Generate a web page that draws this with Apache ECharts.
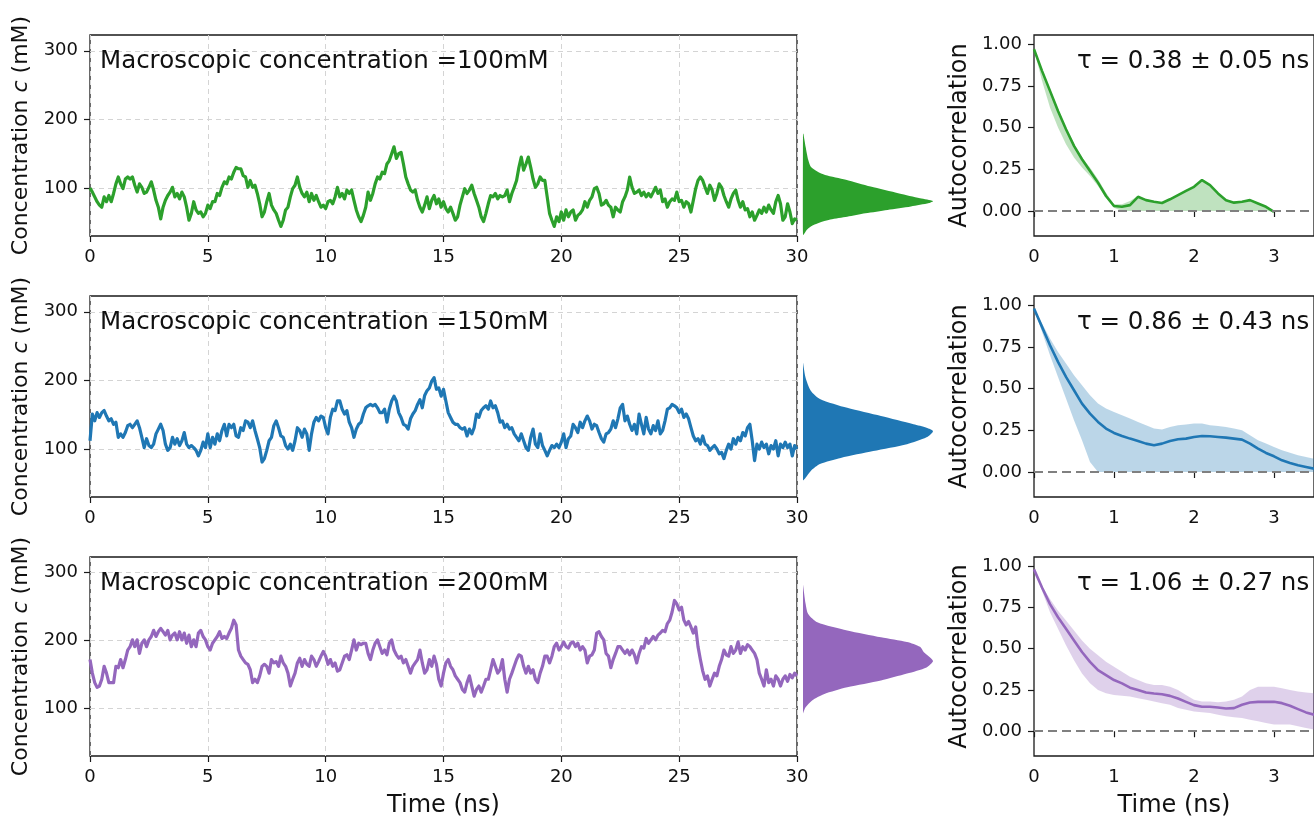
<!DOCTYPE html>
<html>
<head>
<meta charset="utf-8">
<script src="https://cdn.jsdelivr.net/npm/echarts@6/dist/echarts.min.js"></script>
<style>
  html, body { margin: 0; padding: 0; background: #ffffff; }
  #chart { width: 1314px; height: 819px; }
</style>
</head>
<body>
<div id="chart"></div>
<script>
// ---------- data ----------
// concentration trajectories (mM), sampled every 0.1 ns from 0 to 30 ns
const timeStepNs = 0.1;

const conc100 = [
  100, 94, 87, 80, 75, 72, 87, 80, 89, 80,
  92, 106, 116, 106, 99, 113, 116, 113, 116, 104,
  94, 106, 101, 92, 94, 101, 109, 97, 82, 72,
  55, 72, 82, 89, 94, 101, 87, 92, 84, 94,
  87, 72, 53, 63, 80, 68, 63, 65, 58, 63,
  75, 70, 80, 80, 92, 89, 101, 109, 106, 116,
  113, 123, 130, 128, 128, 118, 116, 101, 111, 101,
  104, 92, 77, 58, 65, 80, 92, 75, 68, 63,
  53, 44, 53, 68, 72, 87, 99, 104, 116, 101,
  92, 87, 94, 80, 92, 82, 89, 80, 72, 75,
  70, 80, 82, 77, 87, 101, 87, 92, 84, 97,
  92, 97, 82, 68, 58, 51, 60, 72, 94, 82,
  92, 106, 116, 113, 123, 121, 135, 140, 150, 160,
  143, 150, 152, 135, 116, 106, 97, 94, 97, 82,
  72, 65, 75, 87, 70, 82, 89, 77, 84, 72,
  80, 70, 65, 72, 63, 53, 58, 75, 87, 99,
  92, 97, 104, 92, 82, 72, 58, 51, 63, 77,
  89, 87, 92, 84, 89, 87, 89, 97, 80, 92,
  101, 111, 130, 145, 126, 135, 145, 130, 113, 101,
  106, 116, 111, 111, 87, 63, 53, 44, 58, 51,
  65, 53, 68, 58, 65, 68, 53, 60, 63, 68,
  80, 72, 82, 87, 99, 101, 92, 75, 77, 82,
  75, 72, 58, 72, 68, 65, 80, 87, 97, 116,
  101, 92, 94, 97, 89, 94, 87, 92, 87, 94,
  101, 92, 97, 80, 84, 72, 80, 84, 82, 94,
  80, 82, 72, 80, 77, 65, 82, 99, 111, 116,
  111, 101, 92, 104, 97, 82, 92, 106, 101, 89,
  80, 72, 84, 92, 97, 82, 72, 80, 68, 70,
  58, 65, 53, 60, 68, 63, 72, 65, 75, 68,
  63, 80, 89, 77, 53, 58, 77, 65, 48, 55,
  53
];

const conc150 = [
  112, 151, 141, 153, 146, 153, 156, 148, 141, 144,
  136, 139, 117, 122, 117, 124, 134, 136, 131, 136,
  141, 131, 117, 102, 115, 105, 102, 107, 122, 129,
  136, 127, 107, 98, 102, 117, 107, 115, 105, 112,
  124, 107, 102, 105, 102, 98, 90, 98, 110, 102,
  122, 102, 117, 107, 122, 112, 127, 136, 119, 136,
  131, 136, 119, 117, 131, 127, 141, 139, 131, 141,
  127, 115, 102, 81, 86, 98, 112, 117, 134, 141,
  131, 119, 117, 105, 100, 107, 98, 112, 131, 127,
  117, 129, 122, 98, 122, 139, 146, 141, 148, 146,
  131, 122, 146, 158, 156, 170, 170, 158, 151, 156,
  139, 131, 117, 129, 136, 139, 151, 160, 163, 165,
  163, 165, 160, 153, 153, 158, 139, 158, 170, 177,
  170, 153, 146, 136, 134, 129, 144, 151, 156, 165,
  172, 160, 178, 185, 189, 199, 204, 187, 189, 177,
  187, 170, 153, 146, 139, 136, 136, 131, 129, 131,
  119, 129, 122, 131, 151, 146, 156, 160, 163, 158,
  170, 160, 163, 153, 139, 141, 131, 136, 129, 131,
  122, 117, 112, 122, 112, 102, 98, 117, 129, 107,
  102, 122, 105, 98, 90, 98, 105, 102, 107, 102,
  110, 122, 102, 115, 119, 136, 131, 124, 139, 131,
  141, 148, 141, 129, 136, 134, 124, 115, 110, 122,
  124, 129, 141, 131, 144, 160, 165, 141, 148, 136,
  127, 136, 122, 151, 136, 122, 146, 129, 122, 134,
  127, 141, 122, 127, 141, 158, 160, 165, 163, 160,
  153, 158, 146, 151, 144, 131, 119, 112, 115, 107,
  119, 107, 105, 98, 102, 105, 100, 93, 95, 86,
  98, 107, 100, 115, 107, 117, 112, 124, 119, 131,
  136, 112, 83, 107, 100, 110, 102, 107, 93, 105,
  100, 112, 90, 107, 102, 110, 102, 107, 90, 105,
  100
];

const conc200 = [
  172, 152, 138, 131, 133, 143, 162, 152, 138, 138,
  138, 162, 160, 172, 160, 172, 186, 191, 201, 191,
  201, 181, 196, 201, 191, 201, 206, 215, 206, 213,
  218, 213, 208, 215, 201, 208, 211, 201, 213, 201,
  211, 196, 208, 191, 201, 191, 211, 215, 206, 201,
  191, 186, 196, 201, 206, 213, 203, 206, 203, 211,
  218, 230, 223, 186, 177, 172, 167, 165, 157, 138,
  143, 138, 148, 162, 165, 162, 152, 172, 167, 169,
  162, 177, 167, 162, 152, 133, 143, 152, 167, 174,
  162, 172, 165, 162, 177, 172, 162, 169, 177, 184,
  177, 165, 172, 162, 167, 155, 157, 167, 177, 179,
  172, 186, 201, 186, 196, 194, 196, 196, 181, 172,
  186, 196, 201, 191, 181, 186, 179, 196, 201, 186,
  179, 174, 177, 167, 172, 162, 152, 162, 167, 172,
  186, 167, 152, 157, 172, 162, 177, 165, 143, 133,
  152, 167, 172, 162, 157, 148, 143, 138, 128, 124,
  138, 148, 133, 118, 128, 133, 124, 133, 143, 143,
  157, 172, 162, 152, 157, 172, 143, 124, 143, 152,
  162, 172, 179, 177, 162, 152, 162, 152, 157, 143,
  138, 152, 162, 177, 177, 167, 177, 191, 196, 186,
  191, 198, 191, 189, 196, 198, 191, 196, 186, 191,
  186, 167, 177, 179, 186, 211, 213, 206, 201, 181,
  177, 160, 172, 181, 191, 191, 186, 181, 186, 179,
  186, 179, 167, 181, 191, 189, 203, 196, 201, 206,
  201, 208, 211, 215, 213, 225, 230, 242, 259, 254,
  245, 249, 230, 223, 228, 220, 211, 220, 191, 172,
  155, 143, 148, 133, 143, 152, 148, 162, 172, 186,
  179, 177, 191, 181, 186, 198, 181, 191, 186, 194,
  191, 186, 181, 172, 152, 143, 133, 157, 138, 143,
  133, 148, 143, 133, 143, 148, 140, 150, 145, 152,
  148
];

// concentration distributions: levels (mM) and relative density (peak = 1)
const distLevels100 = [32, 39, 44, 49, 54, 58, 63, 68, 73, 78, 81, 85, 92, 102, 112, 119, 124, 131, 141, 160, 179];
const distDensity100 = [0.005, 0.03, 0.06, 0.12, 0.21, 0.34, 0.48, 0.65, 0.83, 0.97, 1.0, 0.9, 0.74, 0.52, 0.33, 0.17, 0.11, 0.06, 0.04, 0.02, 0.003];
const distLevels150 = [54, 58, 68, 78, 87, 97, 107, 117, 126, 131, 136, 148, 160, 173, 185, 204, 226];
const distDensity150 = [0, 0.02, 0.06, 0.13, 0.29, 0.54, 0.8, 0.95, 1.0, 0.95, 0.85, 0.6, 0.34, 0.13, 0.06, 0.02, 0];
const distLevels200 = [95, 104, 114, 123, 133, 143, 153, 162, 171, 176, 184, 192, 199, 206, 216, 228, 240, 255, 283];
const distDensity200 = [0, 0.02, 0.07, 0.16, 0.34, 0.6, 0.8, 0.95, 1.0, 0.98, 0.93, 0.9, 0.8, 0.6, 0.34, 0.11, 0.04, 0.02, 0];

// autocorrelation vs lag, every 0.1 ns: mean and lower/upper band edges
const lagStepNs = 0.1;
const acfMean100 = [0.97, 0.84, 0.72, 0.60, 0.49, 0.39, 0.31, 0.24, 0.17, 0.09, 0.03, 0.025, 0.035, 0.085, 0.065, 0.055, 0.048, 0.07, 0.095, 0.12, 0.145, 0.185, 0.155, 0.105, 0.065, 0.05, 0.055, 0.065, 0.045, 0.025, -0.005];
const acfLow100  = [0.97, 0.78, 0.62, 0.50, 0.40, 0.32, 0.26, 0.21, 0.15, 0.08, 0.02, 0, 0, 0, 0, 0, 0, 0, 0, 0, 0, 0, 0, 0, 0, 0, 0, 0, 0, 0, -0.005];
const acfHigh100 = [0.98, 0.85, 0.73, 0.61, 0.50, 0.40, 0.32, 0.26, 0.19, 0.11, 0.04, 0.04, 0.06, 0.09, 0.07, 0.06, 0.05, 0.075, 0.10, 0.125, 0.15, 0.19, 0.16, 0.11, 0.07, 0.055, 0.06, 0.07, 0.05, 0.03, 0];

const acfMean150 = [0.98, 0.87, 0.76, 0.66, 0.57, 0.49, 0.41, 0.35, 0.30, 0.26, 0.234, 0.216, 0.20, 0.186, 0.17, 0.16, 0.17, 0.186, 0.196, 0.20, 0.21, 0.216, 0.214, 0.21, 0.206, 0.20, 0.194, 0.17, 0.14, 0.114, 0.094, 0.07, 0.054, 0.04, 0.03, 0.02];
const acfLow150  = [0.98, 0.84, 0.70, 0.57, 0.44, 0.31, 0.19, 0.06, 0, 0, 0, 0, 0, 0, 0, 0, 0, 0, 0, 0, 0, 0, 0, 0, 0, 0, 0, 0, 0, 0, 0, 0, 0, 0, 0, 0];
const acfHigh150 = [0.98, 0.89, 0.80, 0.72, 0.65, 0.58, 0.52, 0.46, 0.41, 0.38, 0.36, 0.34, 0.32, 0.30, 0.28, 0.26, 0.255, 0.27, 0.28, 0.285, 0.29, 0.29, 0.28, 0.275, 0.27, 0.26, 0.25, 0.22, 0.19, 0.17, 0.15, 0.13, 0.115, 0.10, 0.09, 0.08];

const acfMean200 = [0.98, 0.87, 0.77, 0.69, 0.62, 0.55, 0.48, 0.42, 0.37, 0.34, 0.31, 0.29, 0.264, 0.25, 0.234, 0.228, 0.224, 0.214, 0.198, 0.178, 0.158, 0.148, 0.148, 0.144, 0.138, 0.14, 0.16, 0.174, 0.178, 0.178, 0.178, 0.17, 0.154, 0.134, 0.114, 0.10];
const acfLow200  = [0.98, 0.85, 0.72, 0.62, 0.52, 0.43, 0.35, 0.29, 0.25, 0.23, 0.22, 0.215, 0.21, 0.20, 0.19, 0.18, 0.17, 0.16, 0.14, 0.13, 0.12, 0.115, 0.11, 0.10, 0.09, 0.085, 0.08, 0.07, 0.06, 0.05, 0.04, 0.04, 0.04, 0.03, 0.02, 0.01];
const acfHigh200 = [0.98, 0.88, 0.80, 0.73, 0.67, 0.61, 0.55, 0.50, 0.46, 0.42, 0.39, 0.36, 0.33, 0.31, 0.29, 0.28, 0.28, 0.27, 0.25, 0.22, 0.19, 0.18, 0.18, 0.175, 0.18, 0.19, 0.21, 0.25, 0.27, 0.27, 0.27, 0.26, 0.25, 0.24, 0.235, 0.23];

// labels and ticks
const concLabels = ['Macroscopic concentration =100mM', 'Macroscopic concentration =150mM', 'Macroscopic concentration =200mM'];
const tauLabels = ['\u03c4 = 0.38 \u00b1 0.05 ns', '\u03c4 = 0.86 \u00b1 0.43 ns', '\u03c4 = 1.06 \u00b1 0.27 ns'];
const concTicks = [100, 200, 300];
const lagTicks = [0, 1, 2, 3];
const acfTicks = [0, 0.25, 0.5, 0.75, 1];

// ---------- layout & style ----------
const FONT = 'DejaVu Sans';
const rowColors = ['#2ca02c', '#1f77b4', '#9467bd'];
const rowTop = [35, 296, 557];
const rowHeight = 201;
const frameColor = '#1a1a1a';

const rows = [
  { conc: conc100, levels: distLevels100, dens: distDensity100, mean: acfMean100, low: acfLow100, high: acfHigh100 },
  { conc: conc150, levels: distLevels150, dens: distDensity150, mean: acfMean150, low: acfLow150, high: acfHigh150 },
  { conc: conc200, levels: distLevels200, dens: distDensity200, mean: acfMean200, low: acfLow200, high: acfHigh200 }
];

const tickLabelStyle = { fontFamily: FONT, fontSize: 18, color: '#111' };
const tickStyle = { show: true, inside: false, length: 6, lineStyle: { color: frameColor, width: 1.2 } };
const dashedGrid = { show: true, lineStyle: { color: '#d4d4d4', width: 1, type: [5, 4] } };

const grid = [], xAxis = [], yAxis = [], series = [], graphic = [];

rows.forEach((row, r) => {
  const top = rowTop[r];
  const color = rowColors[r];
  const last = r === rows.length - 1;
  const g = r * 3;

  // concentration trace
  grid.push({ left: 90, top, width: 707, height: rowHeight, show: true, borderColor: frameColor, borderWidth: 1.3 });
  xAxis.push({
    type: 'value', gridIndex: g, min: 0, max: 30, interval: 5,
    axisLine: { show: false }, axisTick: tickStyle,
    axisLabel: Object.assign({ margin: 12 }, tickLabelStyle),
    splitLine: dashedGrid,
    name: last ? 'Time (ns)' : '', nameLocation: 'middle', nameGap: 38,
    nameTextStyle: { fontFamily: FONT, fontSize: 24, color: '#111' }
  });
  yAxis.push({
    type: 'value', gridIndex: g, min: 30, max: 323,
    axisLine: { show: false },
    axisTick: Object.assign({ customValues: concTicks }, tickStyle),
    axisLabel: Object.assign({ customValues: concTicks, margin: 12 }, tickLabelStyle),
    splitLine: dashedGrid,
    name: '{n|Concentration }{i|c}{n| (mM)}', nameLocation: 'middle', nameRotate: 90, nameGap: 56,
    nameTextStyle: {
      rich: {
        n: { fontFamily: FONT, fontSize: 22, color: '#111' },
        i: { fontFamily: FONT, fontSize: 22, fontStyle: 'italic', color: '#111' }
      }
    }
  });
  series.push({
    type: 'line', xAxisIndex: g, yAxisIndex: g,
    data: row.conc.map((v, i) => [i * timeStepNs, v]),
    showSymbol: false, symbol: 'none',
    lineStyle: { color, width: 3.2, join: 'round' },
    itemStyle: { color }, z: 3
  });

  // distribution of concentrations, drawn sideways
  grid.push({ left: 803, top, width: 130, height: rowHeight, show: false });
  xAxis.push({ type: 'value', gridIndex: g + 1, min: 0, max: 1, show: false });
  yAxis.push({ type: 'value', gridIndex: g + 1, min: 30, max: 323, show: false });
  const levels = row.levels, dens = row.dens;
  series.push({
    type: 'custom', xAxisIndex: g + 1, yAxisIndex: g + 1,
    data: levels.map((c, i) => [dens[i], c]),
    encode: { x: 0, y: 1 },
    renderItem: (params, api) => {
      if (params.dataIndex !== 0) return null;
      const pts = [api.coord([0, levels[0]])];
      levels.forEach((c, i) => pts.push(api.coord([dens[i], c])));
      pts.push(api.coord([0, levels[levels.length - 1]]));
      return { type: 'polygon', shape: { points: pts, smooth: 0.25 }, style: { fill: color } };
    },
    silent: true
  });

  // autocorrelation with its spread band
  grid.push({ left: 1034, top, width: 288, height: rowHeight, show: true, borderColor: frameColor, borderWidth: 1.3 });
  xAxis.push({
    type: 'value', gridIndex: g + 2, min: 0, max: 3.5,
    axisLine: { show: false },
    axisTick: Object.assign({ customValues: lagTicks }, tickStyle),
    axisLabel: Object.assign({ customValues: lagTicks, margin: 12 }, tickLabelStyle),
    splitLine: { show: false },
    name: last ? 'Time (ns)' : '', nameLocation: 'middle', nameGap: 38,
    nameTextStyle: { fontFamily: FONT, fontSize: 24, color: '#111' }
  });
  yAxis.push({
    type: 'value', gridIndex: g + 2, min: -0.15, max: 1.055,
    axisLine: { show: false },
    axisTick: Object.assign({ customValues: acfTicks }, tickStyle),
    axisLabel: Object.assign({ customValues: acfTicks, margin: 12, formatter: v => v.toFixed(2) }, tickLabelStyle),
    splitLine: { show: false },
    name: 'Autocorrelation', nameLocation: 'middle', nameRotate: 90, nameGap: 62,
    nameTextStyle: { fontFamily: FONT, fontSize: 24, color: '#111' }
  });
  const low = row.low, high = row.high;
  series.push({
    type: 'custom', xAxisIndex: g + 2, yAxisIndex: g + 2,
    data: high.map((v, i) => [i * lagStepNs, v]),
    encode: { x: 0, y: 1 },
    renderItem: (params, api) => {
      if (params.dataIndex !== 0) return null;
      const pts = [];
      high.forEach((v, i) => pts.push(api.coord([i * lagStepNs, v])));
      for (let i = low.length - 1; i >= 0; i--) pts.push(api.coord([i * lagStepNs, low[i]]));
      return { type: 'polygon', shape: { points: pts }, style: { fill: color, opacity: 0.3 } };
    },
    silent: true, z: 2
  });
  series.push({
    type: 'line', xAxisIndex: g + 2, yAxisIndex: g + 2,
    data: row.mean.map((v, i) => [i * lagStepNs, v]),
    showSymbol: false, symbol: 'none',
    lineStyle: { color, width: 2.6 }, itemStyle: { color }, z: 4,
    markLine: {
      silent: true, symbol: 'none', label: { show: false },
      lineStyle: { color: '#808080', width: 2.2, type: [9, 5] },
      data: [{ yAxis: 0 }]
    }
  });

  // in-panel annotations
  graphic.push({
    type: 'text', left: 100, top: top + 14, z: 10,
    style: { text: concLabels[r], fontFamily: FONT, fontSize: 24.5, fill: '#111' }
  });
  graphic.push({
    type: 'text', left: 1077, top: top + 14, z: 10,
    style: { text: tauLabels[r], fontFamily: FONT, fontSize: 24.5, fill: '#111' }
  });
});

const chart = echarts.init(document.getElementById('chart'), null, { renderer: 'canvas' });
chart.setOption({
  animation: false,
  backgroundColor: '#ffffff',
  grid, xAxis, yAxis, series, graphic
});
</script>
</body>
</html>
